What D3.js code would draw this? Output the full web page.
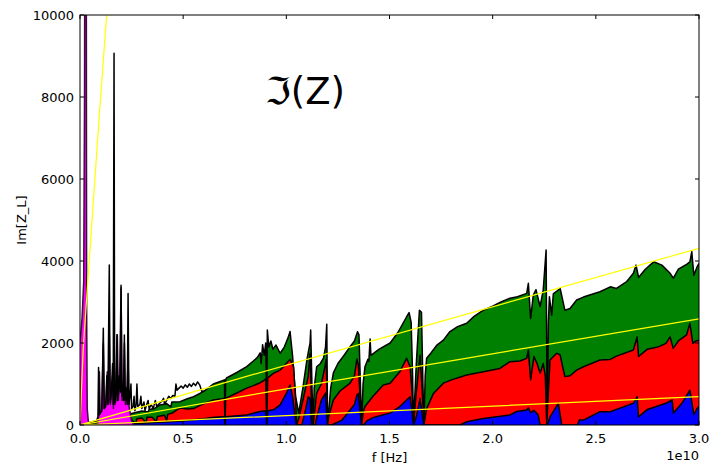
<!DOCTYPE html>
<html><head><meta charset="utf-8">
<script src="https://cdn.jsdelivr.net/npm/d3@7/dist/d3.min.js"></script>
<style>
html,body{margin:0;padding:0;background:#fff;}
text{font-family:"DejaVu Sans",sans-serif;}
</style></head>
<body><svg id="chart" width="710" height="465"></svg>
<script>
// frequencies in units of 1e10 Hz, values of Im[Z_L]
const xTicks = [0, 0.5, 1.0, 1.5, 2.0, 2.5, 3.0];
const yTicks = [0, 2000, 4000, 6000, 8000, 10000];

const greenData = [[0,0],[0.03,20],[0.06,60],[0.1,110],[0.15,160],[0.2,220],[0.25,280],[0.3,340],[0.33,320],[0.335,380],[0.36,400],[0.388,490],[0.42,520],[0.44,440],[0.445,560],[0.485,570],[0.52,640],[0.55,690],[0.6,820],[0.646,1000],[0.69,1080],[0.70,1100],[0.703,0],[0.706,1110],[0.71,1146],[0.76,1280],[0.808,1423],[0.84,1560],[0.86,1650],[0.873,1760],[0.878,1500],[0.885,1960],[0.893,1700],[0.90,2000],[0.905,600],[0.908,2320],[0.915,1900],[0.925,2050],[0.935,1850],[0.95,1950],[0.97,1750],[0.99,1900],[1.01,2150],[1.018,2280],[1.03,1700],[1.045,700],[1.06,290],[1.08,900],[1.10,1600],[1.115,2000],[1.118,2317],[1.125,800],[1.13,0],[1.135,900],[1.147,1420],[1.165,1500],[1.18,1630],[1.19,1900],[1.196,2460],[1.20,0],[1.205,300],[1.215,900],[1.228,1270],[1.25,1500],[1.28,1700],[1.309,1910],[1.33,2050],[1.345,2275],[1.352,2200],[1.365,0],[1.372,1000],[1.381,1420],[1.395,1600],[1.40,1550],[1.406,2100],[1.41,1700],[1.45,1850],[1.503,2000],[1.54,2250],[1.583,2640],[1.595,2740],[1.605,2500],[1.612,1200],[1.616,0],[1.63,1500],[1.645,2800],[1.655,2750],[1.662,1000],[1.667,0],[1.673,1200],[1.68,1630],[1.70,1750],[1.73,1950],[1.761,2070],[1.793,2280],[1.83,2400],[1.874,2480],[1.91,2650],[1.955,2800],[2.0,2900],[2.04,3000],[2.084,3090],[2.12,3130],[2.165,3210],[2.173,3455],[2.184,2600],[2.197,3170],[2.21,3300],[2.23,2890],[2.245,3290],[2.259,4270],[2.263,1000],[2.265,0],[2.27,2500],[2.275,3130],[2.286,2680],[2.294,3200],[2.327,3330],[2.35,2800],[2.375,2840],[2.407,3050],[2.44,3120],[2.52,3250],[2.57,3370],[2.6,3330],[2.65,3500],[2.682,3700],[2.695,3900],[2.707,3600],[2.74,3800],[2.78,3980],[2.82,3900],[2.86,3700],[2.876,3580],[2.9,3800],[2.94,3920],[2.956,3980],[2.965,4230],[2.975,3650],[2.99,3850],[3.0,3940]];

const redData = [[0,0],[0.05,10],[0.1,40],[0.15,70],[0.2,100],[0.22,20],[0.225,110],[0.25,130],[0.27,30],[0.275,150],[0.3,170],[0.32,60],[0.325,190],[0.35,190],[0.37,80],[0.375,210],[0.388,220],[0.41,240],[0.42,100],[0.425,260],[0.45,300],[0.485,415],[0.52,390],[0.55,400],[0.6,520],[0.646,610],[0.69,640],[0.70,650],[0.703,0],[0.706,650],[0.71,660],[0.76,780],[0.808,900],[0.84,960],[0.873,1030],[0.89,1080],[0.90,1130],[0.905,80],[0.91,1150],[0.937,1260],[0.97,1340],[1.0,1500],[1.018,1600],[1.035,1420],[1.045,600],[1.05,0],[1.06,150],[1.08,600],[1.106,1180],[1.115,1750],[1.12,900],[1.123,0],[1.13,0],[1.147,780],[1.17,1000],[1.187,1420],[1.193,1600],[1.2,0],[1.205,200],[1.228,610],[1.26,830],[1.309,1020],[1.33,1200],[1.342,1610],[1.349,1460],[1.365,0],[1.372,300],[1.381,450],[1.42,700],[1.47,975],[1.503,1020],[1.55,1300],[1.583,1625],[1.6,1420],[1.612,600],[1.616,0],[1.63,800],[1.648,1700],[1.66,700],[1.667,0],[1.673,200],[1.68,400],[1.713,770],[1.761,1020],[1.8,1100],[1.874,1220],[1.955,1300],[2.035,1380],[2.084,1545],[2.132,1560],[2.165,1625],[2.173,1830],[2.184,1100],[2.2,1670],[2.215,1500],[2.23,1260],[2.245,1500],[2.255,1200],[2.262,0],[2.27,800],[2.278,1585],[2.31,1750],[2.327,1710],[2.34,1400],[2.35,1180],[2.375,1200],[2.407,1340],[2.44,1420],[2.52,1585],[2.57,1600],[2.6,1680],[2.682,1830],[2.7,2150],[2.707,1670],[2.75,1850],[2.8,1900],[2.84,1990],[2.86,2150],[2.875,1870],[2.9,2050],[2.94,2200],[2.956,2480],[2.97,1990],[2.985,2050],[3.0,2070]];

const blueData = [[0,0],[0.1,20],[0.3,40],[0.5,100],[0.6,150],[0.65,190],[0.70,200],[0.703,0],[0.706,200],[0.75,220],[0.808,245],[0.873,330],[0.90,350],[0.905,0],[0.91,350],[0.937,370],[0.97,490],[1.0,770],[1.018,975],[1.03,700],[1.045,100],[1.05,0],[1.075,0],[1.09,300],[1.106,690],[1.115,650],[1.12,200],[1.123,0],[1.14,0],[1.15,245],[1.17,610],[1.19,780],[1.195,300],[1.2,0],[1.22,0],[1.24,50],[1.27,120],[1.309,366],[1.33,500],[1.342,730],[1.349,770],[1.36,200],[1.365,0],[1.375,0],[1.39,100],[1.42,180],[1.47,250],[1.503,290],[1.55,450],[1.583,610],[1.6,690],[1.61,300],[1.616,0],[1.63,200],[1.648,650],[1.66,200],[1.667,0],[1.842,0],[1.874,80],[1.955,160],[2.084,245],[2.116,330],[2.165,366],[2.173,420],[2.184,300],[2.2,360],[2.22,250],[2.23,0],[2.265,0],[2.278,200],[2.318,530],[2.335,0],[2.41,0],[2.42,120],[2.44,120],[2.52,325],[2.57,325],[2.6,380],[2.682,530],[2.7,690],[2.707,200],[2.75,380],[2.84,530],[2.87,610],[2.876,290],[2.92,550],[2.956,850],[2.975,250],[2.99,400],[3.0,450]];

const magentaData = [[0,2000],[0.01,2600],[0.018,3500],[0.022,8000],[0.024,15000],[0.03,15000],[0.032,3000],[0.035,400],[0.04,100],[0.05,0],[0.085,0],[0.09,200],[0.094,1300],[0.098,300],[0.105,350],[0.113,2000],[0.118,400],[0.125,450],[0.132,1300],[0.136,500],[0.142,2240],[0.147,500],[0.152,700],[0.158,1200],[0.162,400],[0.165,1500],[0.169,500],[0.175,600],[0.181,2200],[0.186,600],[0.192,1100],[0.199,3350],[0.204,600],[0.21,900],[0.215,2000],[0.22,500],[0.227,700],[0.233,1600],[0.238,450],[0.243,300],[0.25,100],[0.26,0]];

const blackData = [[0.04,50],[0.06,80],[0.08,100],[0.087,200],[0.09,1400],[0.094,250],[0.1,300],[0.106,350],[0.113,2360],[0.117,400],[0.125,500],[0.13,1200],[0.135,500],[0.142,3900],[0.146,550],[0.152,800],[0.158,1500],[0.161,500],[0.165,9065],[0.168,550],[0.174,700],[0.179,2200],[0.183,600],[0.19,1200],[0.195,800],[0.199,3410],[0.203,700],[0.208,1000],[0.212,600],[0.215,2195],[0.219,600],[0.225,900],[0.229,500],[0.233,3210],[0.237,500],[0.242,700],[0.247,1000],[0.25,400],[0.257,450],[0.262,700],[0.266,350],[0.272,500],[0.276,1000],[0.28,450],[0.29,500],[0.295,700],[0.3,400],[0.31,560],[0.315,350],[0.32,450],[0.33,600],[0.335,400],[0.345,500],[0.355,400],[0.365,600],[0.372,450],[0.38,500],[0.39,550],[0.4,600],[0.405,650],[0.41,500],[0.42,600],[0.43,700],[0.44,650],[0.45,720],[0.46,700],[0.465,1000],[0.47,850],[0.48,900],[0.49,950],[0.5,900],[0.51,980],[0.52,920],[0.53,1000],[0.54,940],[0.55,1020],[0.56,960],[0.57,1050],[0.58,980],[0.59,820],[0.6,830]];

const yellowTop = [[0,0],[0.824,1210],[3.0,4310]];
const yellowMid = [[0,0],[0.824,730],[1.955,1700],[3.0,2590]];
const yellowLow = [[0,0],[0.824,190],[3.0,690]];
const yellowSteep = [[0,0],[0.016,1900],[0.092,7440],[0.135,10400]];

const svg = d3.select("#chart");
const L = 80, R = 699, T = 15, B = 425;
const x = d3.scaleLinear().domain([0, 3]).range([L, R]);
const y = d3.scaleLinear().domain([0, 10000]).range([B, T]);

svg.append("defs").append("clipPath").attr("id","clip")
  .append("rect").attr("x",L).attr("y",T).attr("width",R-L).attr("height",B-T);

const g = svg.append("g").attr("clip-path","url(#clip)");
const area = d3.area().x(d=>x(d[0])).y0(y(0)).y1(d=>y(d[1]));
const line = d3.line().x(d=>x(d[0])).y(d=>y(d[1]));

function fillLayer(data, fill, stroke, sw){
  g.append("path").datum(data).attr("d",area).attr("fill",fill).attr("stroke","none");
  g.append("path").datum(data).attr("d",line).attr("fill","none")
    .attr("stroke",stroke).attr("stroke-width",sw).attr("stroke-linejoin","round");
}
fillLayer(greenData, "#008000", "#000", 1.5);
fillLayer(redData, "#ff0000", "#000", 1.5);
fillLayer(blueData, "#0000ff", "#000", 1.5);
fillLayer(magentaData, "#ff00ff", "#3d0a3d", 1.5);
g.append("path").datum(blackData).attr("d",line).attr("fill","none")
  .attr("stroke","#000").attr("stroke-width",1.5).attr("stroke-linejoin","round");

[yellowTop, yellowMid, yellowLow, yellowSteep].forEach(d=>{
  g.append("path").datum(d).attr("d",line).attr("fill","none")
    .attr("stroke","#ffff00").attr("stroke-width",1.2);
});

// frame
svg.append("rect").attr("x",L).attr("y",T).attr("width",R-L).attr("height",B-T)
  .attr("fill","none").attr("stroke","#000").attr("stroke-width",1);

// ticks (inside, all four sides)
const tk = 4;
xTicks.forEach(t=>{
  const px = x(t);
  svg.append("line").attr("x1",px).attr("x2",px).attr("y1",B).attr("y2",B-tk).attr("stroke","#000");
  svg.append("line").attr("x1",px).attr("x2",px).attr("y1",T).attr("y2",T+tk).attr("stroke","#000");
  svg.append("text").attr("x",px).attr("y",B+18).attr("text-anchor","middle")
    .attr("font-size",13).text(d3.format(".1f")(t));
});
yTicks.forEach(t=>{
  const py = y(t);
  svg.append("line").attr("x1",L).attr("x2",L+tk).attr("y1",py).attr("y2",py).attr("stroke","#000");
  svg.append("line").attr("x1",R).attr("x2",R-tk).attr("y1",py).attr("y2",py).attr("stroke","#000");
  svg.append("text").attr("x",L-6).attr("y",py+4.5).attr("text-anchor","end")
    .attr("font-size",13).text(t);
});

svg.append("text").attr("x",R).attr("y",B+35).attr("text-anchor","end")
  .attr("font-size",13).text("1e10");
svg.append("text").attr("x",(L+R)/2).attr("y",B+37).attr("text-anchor","middle")
  .attr("font-size",13).text("f [Hz]");
svg.append("text").attr("transform",`translate(26,${(T+B)/2}) rotate(-90)`)
  .attr("text-anchor","middle").attr("font-size",13).text("Im[Z_L]");

svg.append("text").attr("x",265).attr("y",104).attr("font-size",37).text("ℑ(Z)");
</script></body></html>
